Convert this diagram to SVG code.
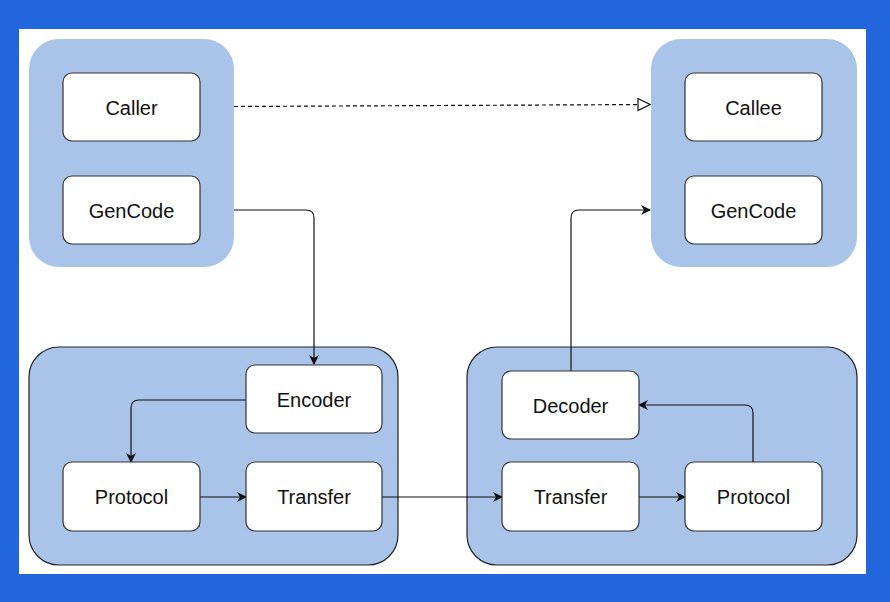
<svg xmlns="http://www.w3.org/2000/svg" width="890" height="602" viewBox="0 0 890 602">
  <style>
    .grp { fill: #a9c4e8; }
    .grp-s { fill: #a9c4e8; stroke: #222; stroke-width: 1.2; }
    .box { fill: #ffffff; stroke: #333; stroke-width: 1.2; }
    .lbl { font-family: "Liberation Sans", Arial, sans-serif; font-size: 20px; fill: #111; text-anchor: middle; dominant-baseline: central; }
    .edge { fill: none; stroke: #111; stroke-width: 1.2; }
    .dash { stroke-dasharray: 4 3; }
  </style>
  <defs>
    <marker id="arr" viewBox="0 0 10 10" refX="9" refY="5" markerWidth="10" markerHeight="10" markerUnits="userSpaceOnUse" orient="auto">
      <path d="M0,0 L10,5 L0,10 L3,5 z" fill="#111"/>
    </marker>
    <marker id="open" viewBox="0 0 14 14" refX="13" refY="7" markerWidth="14" markerHeight="14" markerUnits="userSpaceOnUse" orient="auto">
      <path d="M1,1 L13,7 L1,13 z" fill="#fff" stroke="#111" stroke-width="1.2"/>
    </marker>
  </defs>
  <rect x="0" y="0" width="890" height="602" fill="#2266de"/>
  <rect x="19" y="29" width="847" height="545" fill="#ffffff"/>

  <g id="group-caller"><rect class="grp" x="29" y="39" width="205" height="228" rx="30"/></g>
  <g id="group-callee"><rect class="grp" x="651" y="39" width="206" height="228" rx="30"/></g>
  <g id="group-send"><rect class="grp-s" x="29" y="347" width="369" height="218" rx="30"/></g>
  <g id="group-recv"><rect class="grp-s" x="467" y="347" width="390" height="218" rx="30"/></g>

  <g id="connectors">
    <path class="edge dash" d="M234,106.5 L650,104.5" marker-end="url(#open)"/>
    <path class="edge" d="M234,210 L306,210 Q314,210 314,218 L314,364" marker-end="url(#arr)"/>
    <path class="edge" d="M246,400 L139,400 Q131,400 131,408 L131,462" marker-end="url(#arr)"/>
    <path class="edge" d="M200,497 L246,497" marker-end="url(#arr)"/>
    <path class="edge" d="M382,497 L502,497" marker-end="url(#arr)"/>
    <path class="edge" d="M639,497 L685,497" marker-end="url(#arr)"/>
    <path class="edge" d="M753,462 L753,413 Q753,405 745,405 L639,405" marker-end="url(#arr)"/>
    <path class="edge" d="M571,371 L571,218 Q571,210 579,210 L650,210" marker-end="url(#arr)"/>
  </g>

  <g id="caller"><rect class="box" x="63" y="73" width="137" height="68" rx="9"/><text class="lbl" x="131.5" y="108">Caller</text></g>
  <g id="gencode-left"><rect class="box" x="63" y="176" width="137" height="68" rx="9"/><text class="lbl" x="131.5" y="211">GenCode</text></g>
  <g id="callee"><rect class="box" x="685" y="73" width="137" height="68" rx="9"/><text class="lbl" x="753.5" y="108">Callee</text></g>
  <g id="gencode-right"><rect class="box" x="685" y="176" width="137" height="68" rx="9"/><text class="lbl" x="753.5" y="211">GenCode</text></g>
  <g id="encoder"><rect class="box" x="246" y="365" width="136" height="68" rx="9"/><text class="lbl" x="314" y="400">Encoder</text></g>
  <g id="protocol-left"><rect class="box" x="63" y="462" width="137" height="69" rx="9"/><text class="lbl" x="131.5" y="497">Protocol</text></g>
  <g id="transfer-left"><rect class="box" x="246" y="462" width="136" height="69" rx="9"/><text class="lbl" x="314" y="497">Transfer</text></g>
  <g id="decoder"><rect class="box" x="502" y="371" width="137" height="68" rx="9"/><text class="lbl" x="570.5" y="406">Decoder</text></g>
  <g id="transfer-right"><rect class="box" x="502" y="462" width="137" height="69" rx="9"/><text class="lbl" x="570.5" y="497">Transfer</text></g>
  <g id="protocol-right"><rect class="box" x="685" y="462" width="137" height="69" rx="9"/><text class="lbl" x="753.5" y="497">Protocol</text></g>
</svg>
